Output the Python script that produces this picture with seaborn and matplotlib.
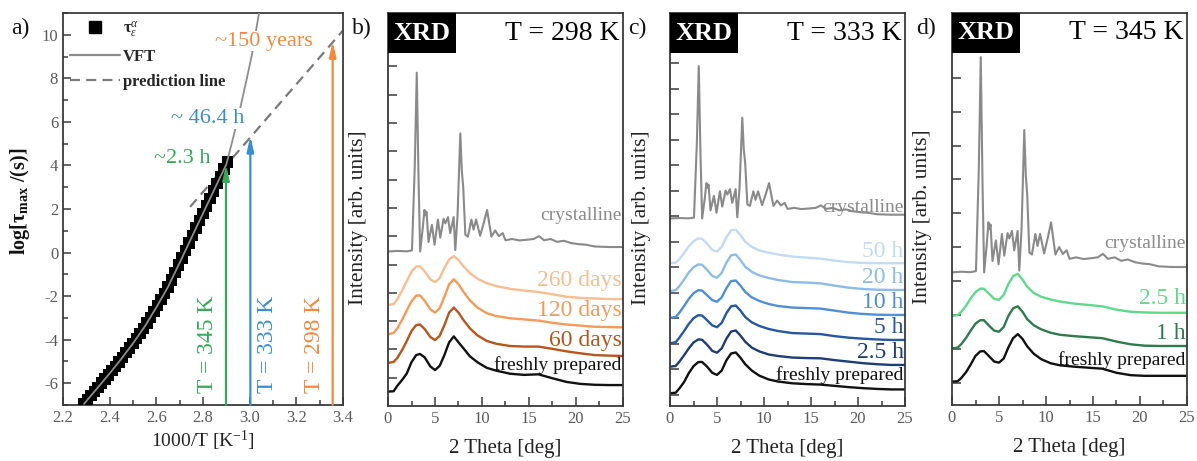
import numpy as np
import pandas as pd
import matplotlib
matplotlib.use("Agg")
import matplotlib.pyplot as plt
from matplotlib.lines import Line2D
from matplotlib.patches import Rectangle
from matplotlib.ticker import MultipleLocator, FixedLocator, NullFormatter
import seaborn as sns

sns.set_theme(style="ticks")
plt.rcParams["font.family"] = ["Liberation Serif", "DejaVu Serif"]
plt.rcParams["mathtext.fontset"] = "custom"
plt.rcParams["mathtext.rm"] = "Liberation Serif"
plt.rcParams["mathtext.it"] = "Liberation Serif:italic"
plt.rcParams["mathtext.bf"] = "Liberation Serif:bold"
plt.rcParams["axes.unicode_minus"] = False

# ---------------- panel a: relaxation map ----------------
inv_T = [2.29, 2.305, 2.32, 2.335, 2.35, 2.365, 2.38, 2.395, 2.41, 2.425,
         2.44, 2.455, 2.47, 2.485, 2.50, 2.515, 2.53, 2.545, 2.56, 2.575,
         2.59, 2.605, 2.62, 2.635, 2.65, 2.665, 2.68, 2.695, 2.71, 2.725,
         2.74, 2.755, 2.77, 2.785, 2.80, 2.815, 2.83, 2.845, 2.86, 2.875,
         2.89, 2.905]
log_tau = [-6.95, -6.76, -6.57, -6.38, -6.19, -6.00, -5.81, -5.62, -5.42, -5.22,
           -5.02, -4.81, -4.60, -4.39, -4.17, -3.95, -3.72, -3.48, -3.23, -2.97,
           -2.70, -2.43, -2.15, -1.87, -1.58, -1.25, -0.92, -0.58, -0.24, 0.10,
           0.44, 0.78, 1.12, 1.46, 1.80, 2.14, 2.48, 2.82, 3.16, 3.50,
           3.84, 4.15]
vft_x = [2.29, 2.35, 2.40, 2.45, 2.50, 2.55, 2.60, 2.65, 2.70, 2.75,
         2.80, 2.85, 2.90, 2.93, 2.96, 2.99, 3.01, 3.04]
vft_y = [-6.95, -6.19, -5.55, -4.88, -4.17, -3.40, -2.52, -1.58, -0.47, 0.67,
         1.80, 2.93, 4.05, 5.30, 6.65, 8.10, 9.10, 11.0]
pred_x = [2.745, 3.40]
pred_y = [2.10, 10.20]

storage_T = [345, 333, 298]
arrow_tip = [4.05, 5.35, 9.70]
storage_colors = ["#38a857", "#3b8ecf", "#f4883c"]
storage_times = ["~2.3 h", "~ 46.4 h", "~150 years"]

# ---------------- panels b-d: XRD patterns ----------------
two_theta = [0, 0.6, 1.0, 1.5, 2.0, 2.5, 3.0, 3.4, 3.9, 4.5, 5.0, 5.5, 6.0, 6.5,
             7.0, 7.5, 8.0, 8.7, 9.5, 10.5, 11.5, 13, 14.5, 16, 17.5, 19, 20.5,
             22, 23.5, 25]

cryst_theta = [0, 1.0, 2.0, 2.55, 2.85, 3.06, 3.25, 3.42, 3.7, 3.88, 4.0, 4.1,
               4.31, 4.67, 4.95, 5.31, 5.56, 5.91, 6.1, 6.38, 6.62, 6.98, 7.16,
               7.4, 7.69, 7.85, 8.0, 8.23, 8.5, 8.87, 9.1, 9.37, 9.8, 10.2,
               10.54, 11.0, 11.4, 11.79, 12.2, 12.5, 13.2, 14.0, 14.8, 15.5,
               16.06, 16.6, 17.3, 18.0, 18.7, 19.5, 20.3, 21.05, 22.0, 23.5, 25]
cryst_rel = [-0.3, 0.0, -0.2, 0.3, 48, 100, 40, -0.3, 13, 23, 20, 22,
             5, 14.6, 3.5, 17.6, 7.5, 18, 15.5, 19, 10, 19, 0.5,
             20, 66, 45, 36, 9, 8, 17.6, 12, 17.6, 8.5, 16,
             23, 8, 11.5, 8.3, 10, 6, 6.7, 5.9, 6.3, 6.7,
             8.3, 6, 6.7, 5.1, 5.7, 4.4, 3.8, 3.5, 2.5, 2.2, 2.2]

# T = 298 K
b_fresh = [0.51, 0.52, 0.72, 0.92, 1.15, 1.55, 1.80, 1.84, 1.72, 1.40, 1.27, 1.42, 1.80, 2.25,
           2.46, 2.25, 2.05, 1.76, 1.55, 1.35, 1.25, 1.14, 1.10, 1.12, 0.98, 0.85, 0.78,
           0.75, 0.74, 0.74]
b_60d = [1.52, 1.56, 1.70, 1.98, 2.30, 2.65, 2.86, 2.88, 2.72, 2.44, 2.33, 2.48, 2.86, 3.30,
         3.48, 3.30, 3.05, 2.75, 2.50, 2.30, 2.20, 2.12, 2.10, 2.10, 2.02, 1.93, 1.86,
         1.80, 1.78, 1.77]
b_120d = [2.54, 2.58, 2.75, 3.05, 3.38, 3.70, 3.90, 3.91, 3.72, 3.42, 3.30, 3.46, 3.86, 4.30,
          4.48, 4.30, 4.05, 3.74, 3.48, 3.28, 3.18, 3.10, 3.06, 3.02, 2.94, 2.88, 2.84,
          2.80, 2.79, 2.78]
b_260d = [3.57, 3.60, 3.78, 4.08, 4.42, 4.75, 4.93, 4.94, 4.76, 4.48, 4.38, 4.52, 4.88, 5.18,
          5.30, 5.16, 4.95, 4.70, 4.50, 4.34, 4.24, 4.14, 4.08, 4.03, 3.95, 3.86, 3.82,
          3.80, 3.78, 3.78]

# T = 333 K
c_fresh = [1.06, 1.08, 1.25, 1.50, 1.85, 2.12, 2.28, 2.29, 2.12, 1.86, 1.78, 1.95, 2.35, 2.62,
           2.66, 2.45, 2.20, 1.95, 1.75, 1.60, 1.52, 1.45, 1.42, 1.40, 1.35, 1.30, 1.26,
           1.23, 1.21, 1.21]
c_2h5 = [2.10, 2.13, 2.30, 2.55, 2.82, 3.05, 3.17, 3.16, 2.98, 2.72, 2.65, 2.82, 3.20, 3.48,
         3.52, 3.32, 3.08, 2.85, 2.70, 2.58, 2.52, 2.46, 2.44, 2.43, 2.36, 2.30, 2.24,
         2.20, 2.17, 2.17]
c_5h = [3.02, 3.06, 3.24, 3.50, 3.78, 4.00, 4.12, 4.11, 3.94, 3.72, 3.65, 3.82, 4.20, 4.47,
        4.50, 4.30, 4.05, 3.84, 3.70, 3.58, 3.50, 3.42, 3.40, 3.38, 3.30, 3.24, 3.20,
        3.17, 3.15, 3.15]
c_10h = [4.02, 4.05, 4.22, 4.48, 4.76, 4.98, 5.10, 5.09, 4.92, 4.71, 4.65, 4.82, 5.18, 5.46,
         5.48, 5.28, 5.03, 4.82, 4.68, 4.56, 4.48, 4.42, 4.40, 4.38, 4.30, 4.22, 4.17,
         4.14, 4.13, 4.13]
c_20h = [5.07, 5.10, 5.26, 5.52, 5.80, 6.00, 6.11, 6.10, 5.92, 5.66, 5.59, 5.78, 6.18, 6.47,
         6.50, 6.28, 6.02, 5.82, 5.68, 5.58, 5.50, 5.42, 5.40, 5.37, 5.28, 5.20, 5.15,
         5.12, 5.11, 5.11]
c_50h = [6.16, 6.18, 6.32, 6.56, 6.82, 7.02, 7.13, 7.12, 6.94, 6.68, 6.61, 6.80, 7.18, 7.45,
         7.47, 7.26, 7.00, 6.80, 6.66, 6.57, 6.50, 6.42, 6.38, 6.34, 6.26, 6.20, 6.17,
         6.16, 6.16, 6.16]

# T = 345 K
d_fresh = [1.04, 1.05, 1.15, 1.32, 1.55, 1.80, 1.93, 1.94, 1.80, 1.63, 1.60, 1.72, 2.05, 2.32,
           2.44, 2.30, 2.08, 1.86, 1.70, 1.58, 1.52, 1.48, 1.45, 1.42, 1.30, 1.23, 1.21,
           1.21, 1.21, 1.21]
d_1h = [2.02, 2.04, 2.15, 2.33, 2.55, 2.75, 2.85, 2.85, 2.70, 2.54, 2.51, 2.65, 2.98, 3.20,
        3.26, 3.10, 2.88, 2.70, 2.58, 2.48, 2.42, 2.38, 2.35, 2.32, 2.22, 2.14, 2.10,
        2.09, 2.09, 2.09]
d_2h5 = [2.98, 3.00, 3.10, 3.28, 3.50, 3.68, 3.78, 3.78, 3.64, 3.48, 3.45, 3.60, 3.92, 4.15,
         4.22, 4.05, 3.84, 3.65, 3.54, 3.46, 3.40, 3.34, 3.30, 3.26, 3.16, 3.10, 3.08,
         3.07, 3.07, 3.07]

panels = [
    dict(temp="T = 298 K", ylim=(0, 13.89), yticks=np.arange(1, 13),
         cryst_base=5.48, cryst_height=6.30, cryst_label_y=6.75,
         curves=[("freshly prepared", b_fresh, "#111111", 1.45, 14),
                 ("60 days", b_60d, "#b9541d", 2.30, 17),
                 ("120 days", b_120d, "#f59a58", 3.39, 17),
                 ("260 days", b_260d, "#f8bd90", 4.42, 17)]),
    dict(temp="T = 333 K", ylim=(0.56, 15.97), yticks=np.arange(1, 15),
         cryst_base=7.93, cryst_height=5.96, cryst_label_y=8.36,
         curves=[("freshly prepared", c_fresh, "#111111", 1.78, 14),
                 ("2.5 h", c_2h5, "#1d3d74", 2.64, 17),
                 ("5 h", c_5h, "#2757a3", 3.62, 17),
                 ("10 h", c_10h, "#4f8fd8", 4.60, 17),
                 ("20 h", c_20h, "#8dbbe9", 5.58, 17),
                 ("50 h", c_50h, "#c2dbf3", 6.60, 17)]),
    dict(temp="T = 345 K", ylim=(0.35, 11.91), yticks=np.arange(1, 11),
         cryst_base=4.28, cryst_height=6.33, cryst_label_y=5.10,
         curves=[("freshly prepared", d_fresh, "#111111", 1.68, 14),
                 ("1 h", d_1h, "#2e7b4d", 2.47, 17),
                 ("2.5 h", d_2h5, "#5fd98b", 3.48, 17)]),
]

# ---------------- figure ----------------
W, H = 1197, 461
fig = plt.figure(figsize=(W / 100, H / 100), dpi=100)


def add_ax(left, top, right, bottom):
    return fig.add_axes([left / W, 1 - bottom / H, (right - left) / W, (bottom - top) / H])


SPINE = "#3a3a3a"
TICKLAB = "#5a5a5a"


def style_spines(ax):
    for s in ax.spines.values():
        s.set_visible(True)
        s.set_color(SPINE)
        s.set_linewidth(1.3)


# ---- panel a ----
ax = add_ax(63, 13, 343, 405)
style_spines(ax)
sns.lineplot(x=pred_x, y=pred_y, ax=ax, color="#7a7a7a", lw=1.6,
             dashes=False, legend=False, zorder=2)
ax.lines[-1].set_dashes((4.5, 2.8))
sns.scatterplot(x=inv_T, y=log_tau, ax=ax, marker="s", s=68, color="black",
                edgecolor="none", linewidth=0, legend=False, zorder=3)
sns.lineplot(x=vft_x, y=vft_y, ax=ax, color="#8d8d8d", lw=1.3, sort=False,
             estimator=None, legend=False, zorder=4)

arrow_x = 1000.0 / np.array(storage_T)
for xa, tip, col in zip(arrow_x, arrow_tip, storage_colors):
    ax.annotate("", xy=(xa, tip), xytext=(xa, -7.0),
                arrowprops=dict(arrowstyle="-|>,head_length=0.75,head_width=0.17",
                                color=col, lw=1.6, shrinkA=0, shrinkB=0), zorder=5)

label_pos = [(2.818, -4.2), (3.077, -4.2), (3.277, -4.2)]
for (lx, ly), t, col in zip(label_pos, storage_T, storage_colors):
    ax.text(lx, ly, f"T = {t} K", rotation=90, color=col, fontsize=17,
            ha="center", va="center", zorder=6)

time_pos = [(2.71, 4.3), (2.82, 6.15), (3.063, 9.7)]
for (tx, ty), lab, col in zip(time_pos, storage_times, storage_colors):
    ax.text(tx, ty, lab, color=col, fontsize=16, ha="center", va="center", zorder=6,
            bbox=dict(facecolor="white", edgecolor="none", pad=0.5))

ax.set_xlim(2.2, 3.4)
ax.set_ylim(-7, 11)
ax.xaxis.set_major_locator(MultipleLocator(0.2))
ax.xaxis.set_minor_locator(MultipleLocator(0.1))
ax.yaxis.set_major_locator(MultipleLocator(2))
ax.yaxis.set_minor_locator(MultipleLocator(1))
ax.xaxis.set_major_formatter(matplotlib.ticker.FormatStrFormatter("%.1f"))
ax.tick_params(which="both", direction="in", color=SPINE, width=1.1,
               labelsize=12, labelcolor=TICKLAB, top=False, right=False)
ax.tick_params(which="major", length=6)
ax.tick_params(which="minor", length=3.5)
ax.set_xlabel("1000/T [K$^{-1}$]", fontsize=14, color="#222222")
ax.xaxis.set_label_coords(0.5, -0.06)
ax.set_ylabel("log[τ$_{\\mathbf{max}}$ /(s)]", fontsize=14.5, fontweight="bold",
              color="#111111")
ax.yaxis.set_label_coords(-0.112, 0.52)

handles = [Line2D([], [], ls="none", marker="s", ms=9, color="black"),
           Line2D([], [], color="#8d8d8d", lw=1.6),
           Line2D([], [], color="#7a7a7a", lw=1.6, dashes=(4.5, 2.8))]
ax.legend(handles, ["τ$^{α}_{ε}$", "VFT", "prediction line"], loc="upper left",
          frameon=False, prop=dict(weight="bold", size=12), handlelength=3.0,
          handletextpad=0.2, labelspacing=0.55, borderaxespad=0.1, borderpad=0.3)

# ---- panels b-d ----
xrd_boxes = [(388, 623, 406), (670, 905, 406), (952, 1187, 405)]
label_x = [368, 651, 932]
for cfg, (l, r, b), lx in zip(panels, xrd_boxes, label_x):
    ax = add_ax(l, 13, r, b)
    style_spines(ax)
    cryst_y = cfg["cryst_base"] + np.array(cryst_rel) * cfg["cryst_height"] / 100.0
    df = pd.DataFrame({"two_theta": cryst_theta, "intensity": cryst_y})
    sns.lineplot(data=df, x="two_theta", y="intensity", ax=ax, color="#8a8a8a",
                 lw=1.5, estimator=None, sort=False, legend=False)
    ax.text(24.85, cfg["cryst_label_y"], "crystalline", color="#8a8a8a",
            fontsize=14, ha="right", va="center")
    for name, vals, col, ly, fs in cfg["curves"]:
        sns.lineplot(x=two_theta, y=vals, ax=ax, color=col, lw=1.7,
                     estimator=None, sort=False, legend=False)
        ax.text(24.85, ly, name, color=col, fontsize=fs, ha="right", va="center")

    ax.set_xlim(0, 25)
    ax.set_ylim(*cfg["ylim"])
    ax.xaxis.set_major_locator(MultipleLocator(5))
    ax.xaxis.set_minor_locator(MultipleLocator(2.5))
    ax.yaxis.set_major_locator(FixedLocator(cfg["yticks"]))
    ax.yaxis.set_major_formatter(NullFormatter())
    ax.tick_params(which="both", direction="in", color=SPINE, width=1.1,
                   labelsize=12, labelcolor=TICKLAB, top=False, right=False)
    ax.tick_params(which="major", length=6.5)
    ax.tick_params(which="minor", length=3.5)
    ax.set_xlabel("2 Theta [deg]", fontsize=15, color="#222222")
    ax.xaxis.set_label_coords(0.5, -0.085)
    ax.set_ylabel("Intensity [arb. units]", fontsize=15.5, color="#222222")
    ax.yaxis.set_label_coords((lx - l) / (r - l), 0.48)

    ax.add_patch(Rectangle((0, 1 - 40 / 393), 68 / 235, 40 / 393, transform=ax.transAxes,
                           facecolor="black", edgecolor="none", zorder=10))
    ax.text(34 / 235, 1 - 20 / 393, "XRD", transform=ax.transAxes, color="white",
            fontsize=19, fontweight="bold", ha="center", va="center", zorder=11)
    ax.text(0.985, 1 - 20 / 393, cfg["temp"], transform=ax.transAxes, color="black",
            fontsize=20, ha="right", va="center", zorder=11)

for lab, px in zip(["a)", "b)", "c)", "d)"], [11, 352, 628, 916]):
    fig.text(px / W, 1 - 28 / H, lab, fontsize=17, ha="left", va="center", color="#111111")

fig.savefig("out.png", dpi=100, facecolor="white")
